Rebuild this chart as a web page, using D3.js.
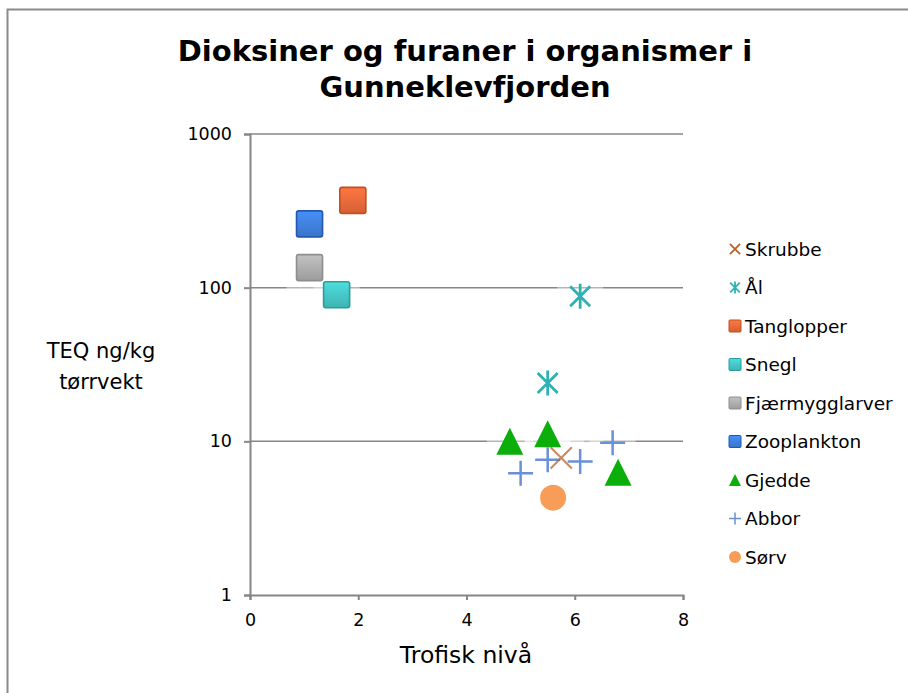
<!DOCTYPE html>
<html>
<head>
<meta charset="utf-8">
<script src="https://cdn.jsdelivr.net/npm/d3@7"></script>
<style>
  html, body { margin: 0; padding: 0; background: #ffffff; }
  svg { display: block; }
</style>
</head>
<body>
<div id="chart"></div>
<script>
// ---- Data ----
const titleLines = ["Dioksiner og furaner i organismer i", "Gunneklevfjorden"];
const xTicks = [0, 2, 4, 6, 8];
const yTicks = [1, 10, 100, 1000];
const seriesNames = ["Skrubbe", "Ål", "Tanglopper", "Snegl", "Fjærmygglarver", "Zooplankton", "Gjedde", "Abbor", "Sørv"];

const skrubbeX = [5.75];           const skrubbeY = [7.8];
const alX = [6.1, 5.5];            const alY = [88, 24];
const tangloperX = [1.9];          const tangloperY = [370];
const sneglX = [1.6];              const sneglY = [90];
const fjaermyggX = [1.1];          const fjaermyggY = [135];
const zooplanktonX = [1.1];        const zooplanktonY = [260];
const gjeddeX = [4.8, 5.5, 6.8];   const gjeddeY = [10, 11.2, 6.3];
const abborX = [5.0, 5.5, 6.1, 6.7]; const abborY = [6.2, 7.6, 7.4, 9.8];
const sorvX = [5.6];               const sorvY = [4.3];

// ---- Styles ----
const styles = {
  "Skrubbe":        { shape: "x",        color: "#B8622A" },
  "Ål":             { shape: "star",     color: "#2EB1B3" },
  "Tanglopper":     { shape: "square",   color: "#E8693A", stroke: "#C0501F" },
  "Snegl":          { shape: "square",   color: "#45C4C4", stroke: "#2A9C9C" },
  "Fjærmygglarver": { shape: "square",   color: "#ABABAB", stroke: "#8E8E8E" },
  "Zooplankton":    { shape: "square",   color: "#3F7FDC", stroke: "#2358B0" },
  "Gjedde":         { shape: "triangle", color: "#0BAE0B" },
  "Abbor":          { shape: "plus",     color: "#6A90D8" },
  "Sørv":           { shape: "circle",   color: "#F79D58" }
};

const seriesData = {
  "Skrubbe": [skrubbeX, skrubbeY],
  "Ål": [alX, alY],
  "Tanglopper": [tangloperX, tangloperY],
  "Snegl": [sneglX, sneglY],
  "Fjærmygglarver": [fjaermyggX, fjaermyggY],
  "Zooplankton": [zooplanktonX, zooplanktonY],
  "Gjedde": [gjeddeX, gjeddeY],
  "Abbor": [abborX, abborY],
  "Sørv": [sorvX, sorvY]
};

// ---- Layout ----
const W = 908, H = 693;
const plot = { left: 250, right: 683, top: 134, bottom: 595 };

const svg = d3.select("#chart").append("svg")
  .attr("width", W).attr("height", H);

// gradients for squares
const defs = svg.append("defs");
Object.keys(styles).forEach((name, i) => {
  const s = styles[name];
  if (s.shape !== "square") return;
  const g = defs.append("linearGradient").attr("id", "grad" + i)
    .attr("x1", 0).attr("y1", 0).attr("x2", 0).attr("y2", 1);
  g.append("stop").attr("offset", "0%").attr("stop-color", d3.color(s.color).brighter(0.35));
  g.append("stop").attr("offset", "100%").attr("stop-color", d3.color(s.color).darker(0.25));
  s.fillRef = "url(#grad" + i + ")";
});

// chart frame
svg.append("rect")
  .attr("x", 7.5).attr("y", 9.5)
  .attr("width", 1000).attr("height", 1000)
  .attr("fill", "#ffffff").attr("stroke", "#8a8a8a").attr("stroke-width", 2);

// title
svg.append("text")
  .attr("x", 465).attr("y", 61)
  .attr("text-anchor", "middle")
  .attr("font-family", "DejaVu Sans")
  .attr("font-weight", "bold")
  .attr("font-size", 29)
  .attr("fill", "#000")
  .selectAll("tspan").data(titleLines).enter().append("tspan")
  .attr("x", 465).attr("dy", (d, i) => i === 0 ? 0 : 36)
  .text(d => d);

// scales
const x = d3.scaleLinear().domain([0, 8]).range([plot.left, plot.right]);
const y = d3.scaleLog().domain([1, 1000]).range([plot.bottom, plot.top]);

// gridlines
svg.append("g").selectAll("line").data(yTicks.filter(t => t > 1)).enter().append("line")
  .attr("x1", plot.left).attr("x2", plot.right)
  .attr("y1", d => y(d)).attr("y2", d => y(d))
  .attr("stroke", "#868686").attr("stroke-width", 1.5);

// axes
const yAxis = d3.axisLeft(y).tickValues(yTicks).tickFormat(d3.format("d")).tickSize(6).tickPadding(12);
const gy = svg.append("g").attr("transform", `translate(${plot.left},0)`).call(yAxis);
gy.select(".domain").attr("stroke", "#868686").attr("stroke-width", 2);
gy.selectAll(".tick line").attr("stroke", "#868686").attr("stroke-width", 2);
gy.selectAll(".tick text")
  .attr("font-family", "DejaVu Sans").attr("font-size", 17.5).attr("fill", "#000");

const xAxis = d3.axisBottom(x).tickValues(xTicks).tickFormat(d3.format("d")).tickSize(5).tickPadding(14);
const gx = svg.append("g").attr("transform", `translate(0,${plot.bottom})`).call(xAxis);
gx.select(".domain").attr("stroke", "#868686").attr("stroke-width", 2);
gx.selectAll(".tick line").attr("stroke", "#868686").attr("stroke-width", 2);
gx.selectAll(".tick text")
  .attr("font-family", "DejaVu Sans").attr("font-size", 17.5).attr("fill", "#000");

// axis titles
svg.append("text")
  .attr("x", 101).attr("y", 358)
  .attr("text-anchor", "middle")
  .attr("font-family", "DejaVu Sans").attr("font-size", 21).attr("fill", "#000")
  .text("TEQ ng/kg");
svg.append("text")
  .attr("x", 101).attr("y", 389)
  .attr("text-anchor", "middle")
  .attr("font-family", "DejaVu Sans").attr("font-size", 21).attr("fill", "#000")
  .text("tørrvekt");
svg.append("text")
  .attr("x", 466).attr("y", 663)
  .attr("text-anchor", "middle")
  .attr("font-family", "DejaVu Sans").attr("font-size", 23.5).attr("fill", "#000")
  .text("Trofisk nivå");

// marker drawing helper
function drawMarker(g, shape, s, size) {
  const h = size / 2;
  if (shape === "square") {
    g.append("rect").attr("x", -h).attr("y", -h).attr("width", size).attr("height", size)
      .attr("rx", size * 0.08)
      .attr("fill", s.fillRef || s.color).attr("stroke", s.stroke).attr("stroke-width", Math.max(1, size / 16));
  } else if (shape === "circle") {
    g.append("circle").attr("r", h).attr("fill", s.color);
  } else if (shape === "triangle") {
    g.append("path").attr("d", `M0,${-h}L${h},${h}L${-h},${h}Z`).attr("fill", s.color);
  } else if (shape === "plus") {
    g.append("path").attr("d", `M${-h},0H${h}M0,${-h}V${h}`)
      .attr("stroke", s.color).attr("stroke-width", Math.max(1.5, size / 10)).attr("fill", "none");
  } else if (shape === "x") {
    const k = h * 0.85;
    g.append("path").attr("d", `M${-k},${-k}L${k},${k}M${k},${-k}L${-k},${k}`)
      .attr("stroke", s.color).attr("stroke-width", Math.max(1.8, size / 12)).attr("fill", "none");
  } else if (shape === "star") {
    const k = h * 0.8;
    g.append("path").attr("d", `M${-k},${-k}L${k},${k}M${k},${-k}L${-k},${k}M0,${-h}V${h}`)
      .attr("stroke", s.color).attr("stroke-width", Math.max(1.8, size / 9)).attr("fill", "none");
  }
}

// halos (soft glow around markers that lightens gridlines)
const allPoints = [];
["Tanglopper", "Snegl", "Fjærmygglarver", "Zooplankton", "Ål", "Gjedde", "Sørv", "Abbor", "Skrubbe"].forEach(name => {
  const [xs, ys] = seriesData[name];
  xs.forEach((xv, i) => allPoints.push({ name, x: xv, y: ys[i] }));
});

svg.append("g").selectAll("rect").data(allPoints).enter().append("rect")
  .attr("x", d => x(d.x) - 23).attr("y", d => y(d.y) - 23)
  .attr("width", 46).attr("height", 46)
  .attr("fill", "#ffffff").attr("opacity", 0.4);

// markers
const mg = svg.append("g");
allPoints.forEach(p => {
  const s = styles[p.name];
  const g = mg.append("g").attr("transform", `translate(${x(p.x)},${y(p.y)})`);
  const size = s.shape === "square" ? 26 : s.shape === "circle" ? 26 : s.shape === "triangle" ? 27 : 25;
  if (p.name === "Skrubbe") g.attr("opacity", 0.75);
  drawMarker(g, s.shape, s, size);
});

// legend
const leg = svg.append("g");
seriesNames.forEach((name, i) => {
  const cy = 249 + i * 38.5;
  const s = styles[name];
  const g = leg.append("g").attr("transform", `translate(735,${cy})`);
  drawMarker(g, s.shape, s, 12);
  leg.append("text")
    .attr("x", 745).attr("y", cy)
    .attr("dy", "0.36em")
    .attr("font-family", "DejaVu Sans").attr("font-size", 18.5).attr("fill", "#000")
    .text(name);
});
</script>
</body>
</html>
